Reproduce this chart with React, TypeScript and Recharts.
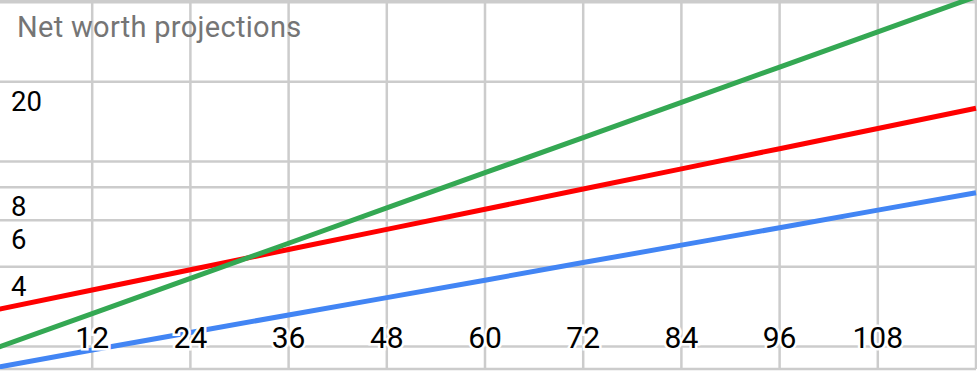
import { LineChart, Line, XAxis, YAxis, CartesianGrid } from "recharts";

// months since start
const months = [0, 12, 24, 36, 48, 60, 72, 84, 96, 108, 120];

// net worth per line
const lowPath = [1.66, 1.94, 2.26, 2.63, 3.06, 3.56, 4.15, 4.83, 5.62, 6.55, 7.62];
const midPath = [2.74, 3.27, 3.9, 4.65, 5.54, 6.6, 7.87, 9.38, 11.18, 13.33, 15.89];
const highPath = [1.96, 2.66, 3.62, 4.91, 6.68, 9.07, 12.32, 16.74, 22.74, 30.9, 41.98];

const yTicks = [2, 4, 6, 8, 10, 20, 40];
const yLabels = [4, 6, 8, 20];
const xLabels = [12, 24, 36, 48, 60, 72, 84, 96, 108];

const data = months.map((m, i) => ({
  month: m,
  low: lowPath[i],
  mid: midPath[i],
  high: highPath[i],
}));

const labelStyle = {
  fontFamily: "Roboto",
  fill: "#000",
  stroke: "#fff",
  strokeWidth: 5,
  paintOrder: "stroke" as const,
};

function XTick(props: any) {
  const { x, payload } = props;
  if (!xLabels.includes(payload.value)) return <g />;
  return (
    <text x={x} y={348} textAnchor="middle" style={{ ...labelStyle, fontSize: 30 }}>
      {payload.value}
    </text>
  );
}

function YTick(props: any) {
  const { y, payload } = props;
  if (!yLabels.includes(payload.value)) return <g />;
  return (
    <text x={23} y={y + 29} textAnchor="start" style={{ ...labelStyle, fontSize: 27.5 }}>
      {payload.value}
    </text>
  );
}

export default function App() {
  return (
    <div
      style={{
        position: "absolute",
        left: 0,
        top: 0,
        width: 977,
        height: 371,
        overflow: "hidden",
        background: "#fff",
      }}
    >
      <div style={{ position: "absolute", left: -12, top: 0 }}>
        <LineChart
          width={989}
          height={371}
          data={data}
          margin={{ top: 0, right: 1, bottom: 0, left: 0 }}
        >
          <CartesianGrid stroke="#cccccc" strokeWidth={2.5} />
          <XAxis
            dataKey="month"
            type="number"
            domain={[0, 120]}
            ticks={months}
            interval={0}
            height={2}
            axisLine={false}
            tickLine={false}
            tick={<XTick />}
          />
          <YAxis
            scale="log"
            domain={[1.644, 40.77]}
            allowDataOverflow
            ticks={yTicks}
            interval={0}
            width={6}
            axisLine={false}
            tickLine={false}
            tick={<YTick />}
          />
          <Line dataKey="low" stroke="#4285f4" strokeWidth={5} dot={false} isAnimationActive={false} />
          <Line dataKey="mid" stroke="#ff0000" strokeWidth={5} dot={false} isAnimationActive={false} />
          <Line dataKey="high" stroke="#34a853" strokeWidth={5} dot={false} isAnimationActive={false} />
        </LineChart>
      </div>
      <div
        style={{
          position: "absolute",
          left: 17,
          top: 13,
          fontFamily: "Roboto",
          fontSize: 29,
          lineHeight: "29px",
          letterSpacing: 0.3,
          color: "#757575",
          whiteSpace: "nowrap",
        }}
      >
        Net worth projections
      </div>
    </div>
  );
}
